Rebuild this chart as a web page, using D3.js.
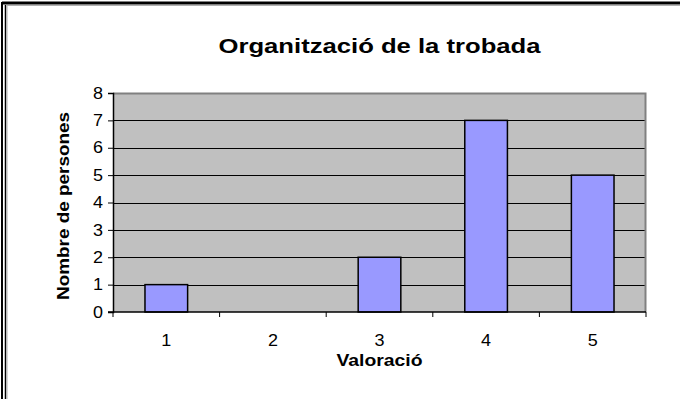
<!DOCTYPE html>
<html>
<head>
<meta charset="utf-8">
<script src="https://cdn.jsdelivr.net/npm/d3@7"></script>
<style>
  html, body { margin: 0; padding: 0; background: #fff; }
  svg { display: block; }
  text { font-family: "Liberation Sans", Arial, sans-serif; fill: #000; }
</style>
</head>
<body>
<svg id="chart" width="680" height="399"></svg>
<script>
// Ratings and number of people who chose each
const categories = ["1", "2", "3", "4", "5"];
const values = [1, 0, 2, 7, 5];
const yTicks = [0, 1, 2, 3, 4, 5, 6, 7, 8];
const titleText = "Organització de la trobada";
const xTitle = "Valoració";
const yTitle = "Nombre de persones";

const svg = d3.select("#chart");
const W = 680, H = 399;
const plot = { left: 113, right: 646, top: 93, bottom: 312 };
const FONT = "Liberation Sans, Arial, sans-serif";

// Outer chart frame (double black line on the left, heavy line on top)
svg.append("rect").attr("x", 0).attr("y", 0).attr("width", W).attr("height", H).attr("fill", "#fff");
svg.append("line").attr("x1", 2).attr("x2", W).attr("y1", 3).attr("y2", 3)
  .attr("stroke", "#000").attr("stroke-width", 3);
svg.append("line").attr("x1", 2).attr("x2", 2).attr("y1", 2).attr("y2", H)
  .attr("stroke", "#000").attr("stroke-width", 2);
svg.append("line").attr("x1", 5.5).attr("x2", 5.5).attr("y1", 5).attr("y2", H)
  .attr("stroke", "#000").attr("stroke-width", 1.5);
svg.append("line").attr("x1", 7).attr("x2", W).attr("y1", 5.5).attr("y2", 5.5)
  .attr("stroke", "#b0b0b0").attr("stroke-width", 1);
svg.append("line").attr("x1", 7).attr("x2", 7).attr("y1", 5.5).attr("y2", H)
  .attr("stroke", "#b0b0b0").attr("stroke-width", 1);

const x = d3.scaleBand().domain(categories).range([plot.left, plot.right]).paddingInner(0).paddingOuter(0);
const y = d3.scaleLinear().domain([0, 8]).range([plot.bottom, plot.top]);

// Plot area background
svg.append("rect")
  .attr("x", plot.left).attr("y", plot.top)
  .attr("width", plot.right - plot.left).attr("height", plot.bottom - plot.top)
  .attr("fill", "#c0c0c0");

// Horizontal gridlines
svg.append("g").selectAll("line")
  .data(yTicks.filter(d => d > 0 && d < 8))
  .join("line")
  .attr("x1", plot.left).attr("x2", plot.right)
  .attr("y1", d => Math.round(y(d)) + 0.5).attr("y2", d => Math.round(y(d)) + 0.5)
  .attr("stroke", "#000").attr("stroke-width", 1);

// Plot area border on top and right
svg.append("path")
  .attr("d", `M${plot.left},${plot.top + 0.5}H${plot.right - 0.5}V${plot.bottom}`)
  .attr("fill", "none").attr("stroke", "#808080").attr("stroke-width", 2);

// Bars: width = band / 2.5 (gap width 150%)
const bw = x.bandwidth() / 2.5;
svg.append("g").selectAll("rect")
  .data(categories.map((c, i) => ({ c, v: values[i] })).filter(d => d.v > 0))
  .join("rect")
  .attr("x", d => x(d.c) + (x.bandwidth() - bw) / 2)
  .attr("width", bw)
  .attr("y", d => y(d.v))
  .attr("height", d => y(0) - y(d.v))
  .attr("fill", "#9999ff")
  .attr("stroke", "#000")
  .attr("stroke-width", 1.5);

// Y axis
const yAxis = d3.axisLeft(y).tickValues(yTicks).tickSize(5).tickPadding(5).tickFormat(d3.format("d"));
const gy = svg.append("g").attr("transform", `translate(${plot.left},0)`).call(yAxis);
gy.attr("font-size", null).attr("font-family", null);
gy.select(".domain").attr("stroke", "#000").attr("stroke-width", 1.5);
gy.selectAll(".tick line").attr("stroke", "#000");
gy.selectAll(".tick text")
  .style("font-size", "16px").style("font-family", FONT).attr("fill", "#000")
  .attr("textLength", 10).attr("lengthAdjust", "spacingAndGlyphs");

// X axis: ticks on band boundaries, labels centred in bands
const gx = svg.append("g").attr("transform", `translate(0,${plot.bottom})`);
gx.append("line").attr("x1", plot.left - 5).attr("x2", plot.right).attr("y1", 0).attr("y2", 0)
  .attr("stroke", "#000").attr("stroke-width", 1.5);
const bounds = categories.map(c => x(c)).concat([plot.right]);
gx.selectAll("line.tk").data(bounds).join("line").attr("class", "tk")
  .attr("x1", d => d).attr("x2", d => d).attr("y1", 0).attr("y2", 5)
  .attr("stroke", "#000");
gx.selectAll("text").data(categories).join("text")
  .attr("x", d => x(d) + x.bandwidth() / 2).attr("y", 34)
  .attr("text-anchor", "middle").style("font-size", "16px")
  .attr("textLength", 10).attr("lengthAdjust", "spacingAndGlyphs")
  .text(d => d);

// Titles
svg.append("text").attr("x", (plot.left + plot.right) / 2).attr("y", 53)
  .attr("text-anchor", "middle").style("font-size", "20px").attr("font-weight", "bold")
  .attr("textLength", 322).attr("lengthAdjust", "spacingAndGlyphs")
  .text(titleText);
svg.append("text").attr("x", (plot.left + plot.right) / 2).attr("y", 366)
  .attr("text-anchor", "middle").style("font-size", "16px").attr("font-weight", "bold")
  .attr("textLength", 86).attr("lengthAdjust", "spacingAndGlyphs")
  .text(xTitle);
svg.append("text")
  .attr("transform", `translate(69,206) rotate(-90)`)
  .attr("text-anchor", "middle").style("font-size", "16px").attr("font-weight", "bold")
  .attr("textLength", 188).attr("lengthAdjust", "spacingAndGlyphs")
  .text(yTitle);
</script>
</body>
</html>
